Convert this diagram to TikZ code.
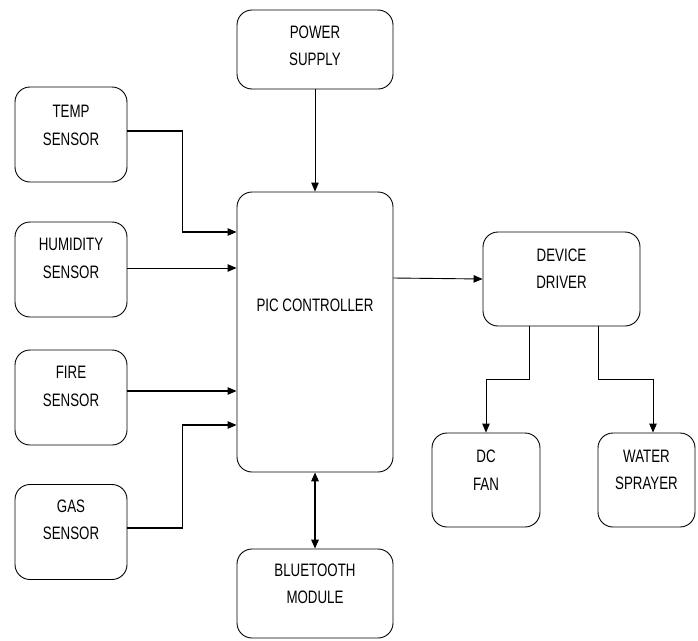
\documentclass[tikz,border=0pt]{standalone}
\usepackage{fontspec}
\setmainfont[FakeStretch=0.74]{Liberation Sans}
\usetikzlibrary{arrows.meta}

\begin{document}
\begin{tikzpicture}[
    x=1pt, y=-1pt,
    blk/.style={draw, line width=0.9pt, rounded corners=15pt, inner sep=0pt},
    txt/.style={font=\fontsize{18}{27.5}\selectfont, align=center, inner sep=0pt},
    arr/.style={line width=1.2pt, -{Triangle[length=9pt, width=7.5pt]}},
    dbl/.style={line width=1.6pt, {Triangle[length=9pt, width=7.5pt]}-{Triangle[length=9pt, width=7.5pt]}},
  ]
    %% frame: pixel grid of the reference, y runs downward
    \useasboundingbox (0,0) rectangle (698,640);

    %% --- sensors (left column) ---
    \def\sw{112}   % sensor box width
    \def\sh{95}    % sensor box height
    \node[blk, minimum width=\sw, minimum height=\sh] (temp) at (71,134.5) {};
    \node[txt] (temp-t) at ([yshift=9pt]temp.center) {TEMP\\SENSOR};

    \node[blk, minimum width=\sw, minimum height=\sh] (hum) at (71,269.5) {};
    \node[txt] (hum-t) at ([yshift=11pt]hum.center) {HUMIDITY\\SENSOR};

    \node[blk, minimum width=\sw, minimum height=\sh] (fire) at (71,397.5) {};
    \node[txt] (fire-t) at ([yshift=11pt]fire.center) {FIRE\\SENSOR};

    \node[blk, minimum width=\sw, minimum height=\sh] (gas) at (71,532) {};
    \node[txt] (gas-t) at ([yshift=12pt]gas.center) {GAS\\SENSOR};

    %% --- middle column ---
    \node[blk, minimum width=156, minimum height=79] (pwr) at (315,49.5) {};
    \node[txt] (pwr-t) at ([yshift=3.5pt]pwr.center) {POWER\\SUPPLY};

    \node[blk, minimum width=156, minimum height=280] (pic) at (315,332) {};
    \node[txt] (pic-t) at ([yshift=27pt]pic.center) {PIC CONTROLLER};

    \node[blk, minimum width=156, minimum height=89] (bt) at (315,593.5) {};
    \node[txt] (bt-t) at ([yshift=9.5pt]bt.center) {BLUETOOTH\\MODULE};

    %% --- right side ---
    \node[blk, minimum width=157, minimum height=94] (drv) at (561.5,279) {};
    \node[txt] (drv-t) at ([yshift=10.5pt]drv.center) {DEVICE\\DRIVER};

    \node[blk, minimum width=108, minimum height=94] (fan) at (486,480) {};
    \node[txt] (fan-t) at ([yshift=10pt]fan.center) {DC\\FAN};

    \node[blk, minimum width=97, minimum height=94] (spray) at (646.5,480) {};
    \node[txt] (spray-t) at ([yshift=10pt]spray.center) {WATER\\SPRAYER};

    %% --- connectors ---
    \draw[arr] ([yshift=3.5pt]temp.east) -- ++(55,0) |- ([yshift=100pt]pic.west);
    \draw[arr, line width=0.9pt] ([yshift=1.5pt]hum.east) -- ([yshift=1.5pt]hum.east -| pic.west);
    \draw[arr] ([yshift=6.5pt]fire.east) -- ([yshift=6.5pt]fire.east -| pic.west);
    \draw[arr] ([yshift=4pt]gas.east) -- ++(55,0) |- ([yshift=-93pt]pic.west);

    \draw[arr, line width=0.9pt] (pwr.south) -- (pic.north);
    \draw[dbl] (pic.south) -- (bt.north);
    \draw[arr, line width=0.9pt] ([yshift=54pt]pic.east) -- (drv.west);

    \draw[arr, line width=0.9pt] ([xshift=-32.5pt]drv.south) -- ++(0,53) -| (fan.north);
    \draw[arr, line width=0.9pt] ([xshift=36.5pt]drv.south) -- ++(0,53) -| ([xshift=6.5pt]spray.north);

  \end{tikzpicture}
\end{document}
